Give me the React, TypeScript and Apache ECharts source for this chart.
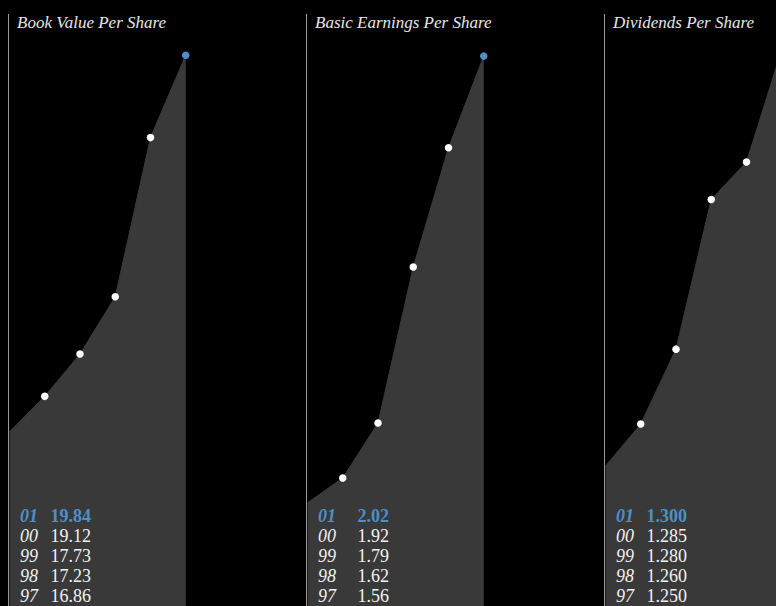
import React, { useEffect, useRef } from "react";
import * as echarts from "echarts";

const years = ["96", "97", "98", "99", "00", "01"];
const titles = ["Book Value Per Share", "Basic Earnings Per Share", "Dividends Per Share"];
const bookValue = [16.55, 16.86, 17.23, 17.73, 19.12, 19.84];
const basicEps = [1.533, 1.56, 1.62, 1.79, 1.92, 2.02];
const dividends = [1.2444, 1.25, 1.26, 1.28, 1.285, 1.3];
const decimals = [2, 2, 3];
const tableYears = ["01", "00", "99", "98", "97"];

const seriesData = [bookValue, basicEps, dividends];
const yRanges: [number, number][] = [
  [15.029, 20.322],
  [1.4204, 2.0812],
  [1.22569, 1.30664],
];

const FONT = '"Liberation Serif", "Times New Roman", serif';
const BLUE = "#4b90c9";
const AREA = "#393939";

export default function App() {
  const ref = useRef<HTMLDivElement>(null);
  useEffect(() => {
    if (!ref.current) return;
    const chart = echarts.init(ref.current, undefined, { renderer: "svg" });
    const panelW = 298;
    const lineX = (i: number) => 8.5 + panelW * i;
    const grids = seriesData.map((_, i) => ({
      left: 9.5 + panelW * i,
      width: 176.25,
      top: 0,
      height: 606,
      containLabel: false,
    }));
    const xAxes = seriesData.map((_, i) => ({
      type: "category",
      gridIndex: i,
      data: years,
      boundaryGap: false,
      show: false,
    }));
    const yAxes = seriesData.map((_, i) => ({
      type: "value",
      gridIndex: i,
      min: yRanges[i][0],
      max: yRanges[i][1],
      show: false,
      splitLine: { show: false },
    }));
    const series = seriesData.map((vals, i) => ({
      type: "line",
      xAxisIndex: i,
      yAxisIndex: i,
      clip: false,
      data: vals.map((v, k) => ({
        value: v,
        symbol: k === 0 ? "none" : "circle",
        symbolSize: 7.5,
        itemStyle: { color: k === vals.length - 1 ? BLUE : "#ffffff" },
      })),
      lineStyle: { color: AREA, width: 1 },
      areaStyle: { color: AREA, opacity: 1, origin: "start" },
      z: 2,
    }));

    const graphics: any[] = [];
    seriesData.forEach((vals, i) => {
      const lx = lineX(i);
      graphics.push({
        type: "line",
        shape: { x1: lx, y1: 14, x2: lx, y2: 606 },
        style: { stroke: "#999999", lineWidth: 1 },
        z: 10,
      });
      graphics.push({
        type: "text",
        x: lx + 8.5,
        y: 22,
        style: {
          text: titles[i],
          fill: "#e6e6e6",
          fontSize: 17,
          fontFamily: FONT,
          fontStyle: "italic",
          align: "left",
          verticalAlign: "middle",
        },
        z: 10,
      });
      tableYears.forEach((yr, r) => {
        const idx = years.indexOf(yr);
        const isLast = r === 0;
        const color = isLast ? BLUE : "#f2f2f2";
        const weight = isLast ? "bold" : "normal";
        const ty = 516 + 20 * r;
        graphics.push({
          type: "text",
          x: lx + 11.5,
          y: ty,
          style: {
            text: yr,
            fill: color,
            fontSize: 18,
            fontFamily: FONT,
            fontStyle: "italic",
            fontWeight: weight,
            align: "left",
            verticalAlign: "middle",
          },
          z: 10,
        });
        graphics.push({
          type: "text",
          x: lx + 82.5,
          y: ty,
          style: {
            text: vals[idx].toFixed(decimals[i]),
            fill: color,
            fontSize: 18,
            fontFamily: FONT,
            fontWeight: weight,
            align: "right",
            verticalAlign: "middle",
          },
          z: 10,
        });
      });
    });

    chart.setOption({
      animation: false,
      backgroundColor: "#000000",
      grid: grids,
      xAxis: xAxes,
      yAxis: yAxes,
      series,
      graphic: graphics,
    } as any);
    return () => chart.dispose();
  }, []);
  return (
    <div
      style={{
        position: "fixed",
        left: 0,
        top: 0,
        width: 776,
        height: 606,
        overflow: "hidden",
        background: "#000",
      }}
    >
      <div ref={ref} style={{ width: 820, height: 606 }} />
    </div>
  );
}
